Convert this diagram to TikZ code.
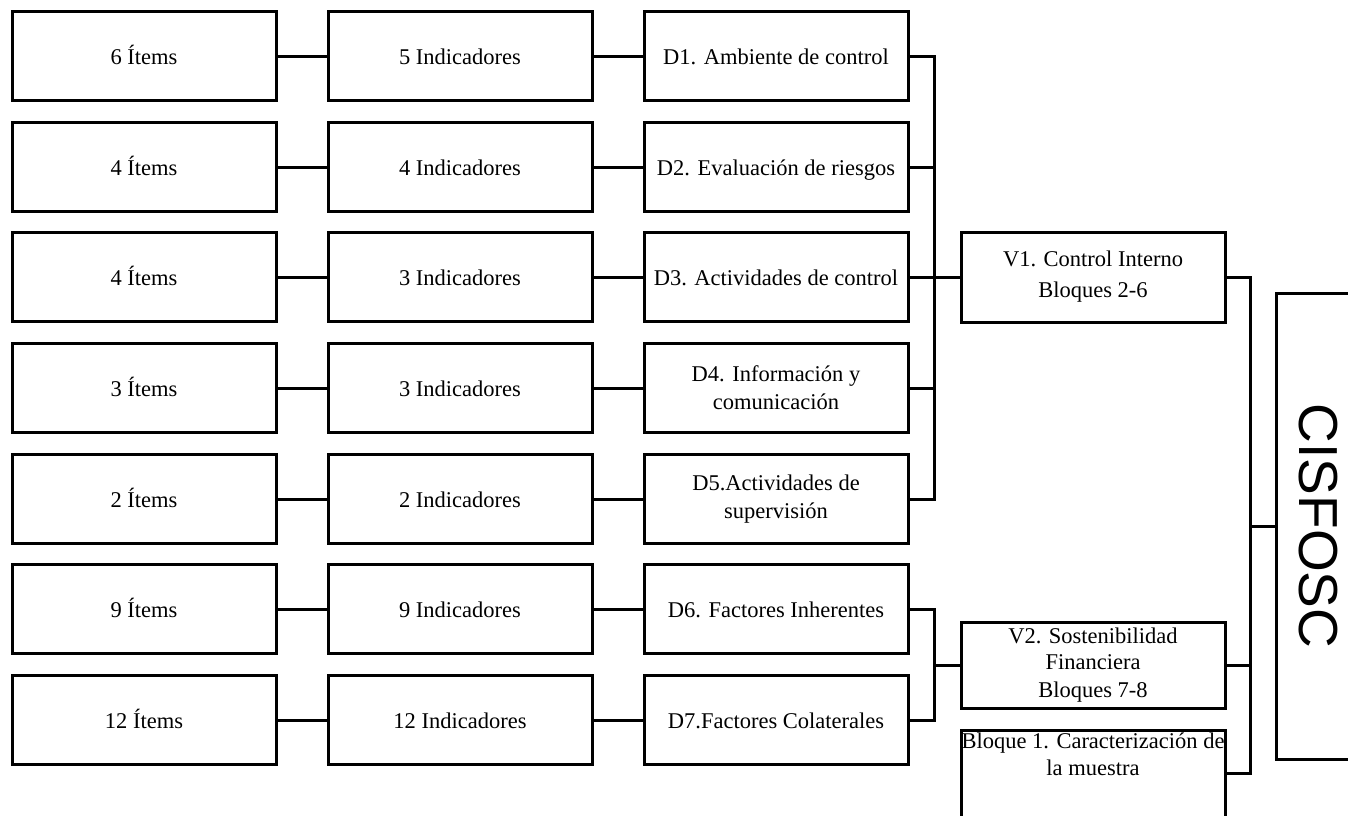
\documentclass[tikz,border=0pt]{standalone}
\usepackage{fontspec}
\setmainfont{Liberation Serif}
\newfontfamily\cisfont{Liberation Sans}
\begin{document}
\begin{tikzpicture}[x=1pt,y=-1pt,
  box/.style={draw, line width=3pt, fill=white, minimum width=264pt, minimum height=89pt,
    inner sep=0pt, align=center, font=\fontsize{22.5}{28}\selectfont},
  one/.style={box, text height=20pt, text depth=3pt},
  conn/.style={line width=3pt, line join=miter},
  txt/.style={inner sep=0pt, align=center, font=\fontsize{22.5}{27}\selectfont}]
\clip (0,0) rectangle (1348,815);
\fill[white] (0,0) rectangle (1348,815);
% Items column
\node[one] (i1) at (144,56)  {6 Ítems};
\node[one] (i2) at (144,167) {4 Ítems};
\node[one] (i3) at (144,277) {4 Ítems};
\node[one] (i4) at (144,388) {3 Ítems};
\node[one] (i5) at (144,499) {2 Ítems};
\node[one] (i6) at (144,609) {9 Ítems};
\node[one] (i7) at (144,720) {12 Ítems};
% Indicators column
\node[one] (n1) at (460,56)  {5 Indicadores};
\node[one] (n2) at (460,167) {4 Indicadores};
\node[one] (n3) at (460,277) {3 Indicadores};
\node[one] (n4) at (460,388) {3 Indicadores};
\node[one] (n5) at (460,499) {2 Indicadores};
\node[one] (n6) at (460,609) {9 Indicadores};
\node[one] (n7) at (460,720) {12 Indicadores};
% Dimensions column
\node[one] (d1) at (776,56)  {D1. Ambiente de control};
\node[one] (d2) at (776,167) {D2. Evaluación de riesgos};
\node[one] (d3) at (776,277) {D3. Actividades de control};
\node[box] (d4) at (776,388) {D4. Información y\\comunicación};
\node[box] (d5) at (776,499) {D5.Actividades de\\supervisión};
\node[one] (d6) at (776,609) {D6. Factores Inherentes};
\node[one] (d7) at (776,720) {D7.Factores Colaterales};
% Variables column
\node[box, minimum height=90pt, font=\fontsize{22.5}{31}\selectfont] (v1) at (1093,277) {V1. Control Interno\\Bloques 2-6};
\node[box, minimum height=86pt, font=\fontsize{22.5}{26}\selectfont] (v2) at (1093,665) {V2. Sostenibilidad\\Financiera\\[2pt]Bloques 7-8};
\node[box, minimum height=90pt] (b1) at (1093,775) {};
\node[txt] (b1t) at (1093,754) {Bloque 1. Caracterización de\\la muestra};
% CISFOSC
\node[draw, line width=3pt, fill=white, minimum width=84pt, minimum height=466pt, inner sep=0pt] (cis) at (1318,526) {};
\node[inner sep=0pt, rotate=-90, font=\cisfont\fontsize{55}{60}\selectfont] (cist) at (1318,526) {CISFOSC};
% Connectors items -> indicators -> dimensions
\foreach \k in {1,...,7}{
  \draw[conn] (i\k.east) -- (n\k.west);
  \draw[conn] (n\k.east) -- (d\k.west);
}
% Bus for D1-D5
\coordinate (ba1) at (934,56);
\coordinate (ba5) at (934,499);
\draw[conn] (d1.east) -- (ba1) -- (ba5) -- (d5.east);
\draw[conn] (d2.east) -- (d2.east -| ba1);
\draw[conn] (d4.east) -- (d4.east -| ba1);
\draw[conn] (d3.east) -- (v1.west);
% Bus for D6-D7
\coordinate (bb6) at (934,609);
\coordinate (bb7) at (934,720);
\draw[conn] (d6.east) -- (bb6) -- (bb7) -- (d7.east);
\draw[conn] (v2.west -| bb6) -- (v2.west);
% Right bus to CISFOSC
\coordinate (r1) at (1250,277);
\coordinate (r2) at (1250,773);
\draw[conn] (v1.east) -- (r1) -- (r2) -- (r2 -| b1.east);
\draw[conn] (v2.east) -- (v2.east -| r1);
\draw[conn] (cis.west -| r1) -- (cis.west);
\end{tikzpicture}
\end{document}
